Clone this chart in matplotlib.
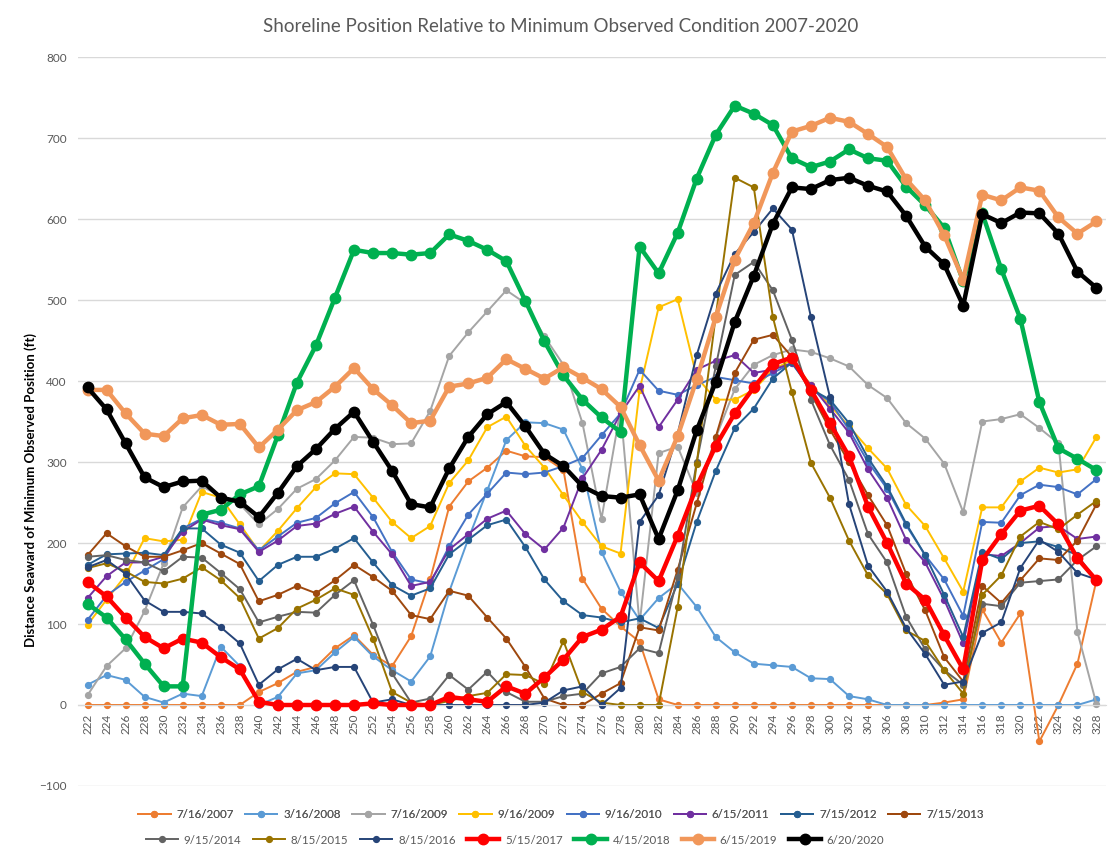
import matplotlib
matplotlib.use("Agg")
import matplotlib.pyplot as plt
from matplotlib.lines import Line2D

plt.rcParams['font.family'] = ['Lato', 'DejaVu Sans']

stations = ['222', '224', '226', '228', '230', '232', '234', '236', '238', '240',
            '242', '244', '246', '248', '250', '252', '254', '256', '258', '260',
            '262', '264', '266', '268', '270', '272', '274', '276', '278', '280',
            '282', '284', '286', '288', '290', '292', '294', '296', '298', '300',
            '302', '304', '306', '308', '310', '312', '314', '316', '318', '320',
            '322', '324', '326', '328']

s2007 = [0, 0, 0, 0, 0, 0, 0, 0, 0, 16, 27, 41, 47, 70, 86, 62, 48, 85, 155, 245,
         276, 293, 314, 307, 306, 290, 156, 119, 97, 78, 7, 0, 0, 0, 0, 0, 0, 0, 0, 0,
         0, 0, 0, 0, 0, 3, 7, 118, 77, 113, -45, 0, 51, 154]
s2008 = [25, 37, 31, 10, 3, 14, 11, 72, 48, 0, 10, 39, 43, 65, 84, 60, 43, 29, 60, 140,
         205, 265, 327, 349, 348, 340, 291, 189, 140, 105, 132, 150, 121, 84, 65, 51, 49, 47, 33, 32,
         11, 7, 0, 0, 0, 0, 0, 0, 0, 0, 0, 0, 0, 7]
s2009a = [12, 48, 70, 116, 175, 244, 270, 258, 248, 223, 242, 267, 279, 302, 331, 330, 322, 323, 363, 431,
          460, 486, 512, 496, 455, 420, 348, 230, 365, 100, 311, 319, 262, 330, 390, 420, 432, 439, 436, 428,
          418, 395, 379, 348, 329, 298, 238, 350, 353, 359, 342, 323, 90, 1]
s2009b = [99, 130, 160, 206, 202, 204, 263, 256, 223, 190, 215, 243, 269, 286, 285, 256, 226, 206, 221, 274,
          302, 343, 356, 320, 293, 259, 226, 196, 187, 389, 491, 501, 405, 377, 377, 389, 414, 426, 395, 370,
          344, 317, 292, 247, 221, 181, 140, 244, 244, 276, 293, 287, 291, 331]
s2010 = [105, 135, 152, 166, 180, 218, 230, 225, 218, 191, 208, 225, 231, 249, 263, 232, 189, 155, 150, 196,
         235, 261, 287, 285, 287, 295, 305, 333, 360, 414, 388, 383, 395, 405, 401, 397, 410, 422, 390, 375,
         340, 300, 267, 222, 185, 155, 110, 226, 225, 259, 272, 269, 260, 279]
s2011 = [132, 159, 176, 176, 183, 214, 229, 222, 217, 189, 203, 221, 224, 236, 245, 214, 186, 147, 152, 192,
         211, 230, 240, 211, 192, 219, 280, 315, 360, 394, 343, 377, 414, 425, 432, 410, 414, 422, 395, 366,
         336, 291, 256, 204, 176, 130, 76, 186, 184, 200, 219, 221, 205, 208]
s2012 = [173, 186, 187, 188, 185, 218, 218, 198, 188, 153, 173, 183, 183, 193, 206, 176, 148, 135, 144, 186,
         204, 222, 229, 195, 155, 128, 111, 108, 102, 107, 95, 150, 226, 289, 342, 366, 403, 423, 390, 377,
         348, 305, 270, 224, 185, 136, 84, 189, 180, 200, 202, 195, 185, 153]
s2013 = [185, 212, 196, 183, 183, 191, 200, 187, 174, 128, 136, 147, 138, 154, 173, 158, 141, 111, 106, 141,
         135, 108, 82, 47, 8, 0, 0, 14, 27, 96, 92, 167, 249, 331, 410, 451, 457, 430, 385, 340,
         300, 259, 222, 162, 117, 59, 29, 147, 126, 154, 181, 179, 203, 248]
s2014 = [183, 185, 179, 176, 165, 183, 182, 163, 143, 102, 109, 115, 114, 136, 154, 99, 39, 3, 8, 37,
         19, 41, 16, 4, 4, 11, 14, 39, 47, 70, 64, 158, 300, 418, 531, 547, 512, 451, 377, 321,
         278, 211, 176, 109, 69, 43, 25, 125, 122, 151, 153, 155, 179, 196]
s2015 = [169, 175, 165, 152, 150, 156, 170, 154, 132, 82, 95, 119, 130, 144, 136, 82, 16, 3, 0, 5,
         11, 15, 38, 37, 26, 79, 16, 3, 0, 0, 0, 121, 298, 480, 651, 639, 479, 386, 299, 256,
         203, 160, 137, 92, 79, 43, 14, 136, 160, 208, 226, 217, 235, 252]
s2016 = [170, 179, 162, 129, 115, 115, 113, 96, 76, 25, 44, 57, 43, 47, 47, 3, 7, 0, 0, 0,
         0, 0, 0, 0, 3, 18, 23, 0, 21, 226, 259, 335, 432, 508, 557, 584, 613, 587, 479, 380,
         248, 172, 140, 95, 63, 25, 29, 89, 102, 169, 204, 189, 163, 155]
s2017 = [152, 134, 108, 84, 70, 82, 77, 59, 44, 4, 0, 0, 0, 0, 0, 2, 0, 0, 0, 10,
         7, 4, 23, 14, 34, 56, 84, 93, 109, 176, 153, 209, 270, 320, 360, 392, 421, 429, 389, 348,
         307, 245, 200, 150, 130, 86, 44, 179, 211, 240, 246, 223, 181, 154]
s2018 = [125, 108, 81, 51, 23, 23, 235, 241, 260, 270, 333, 398, 444, 503, 562, 558, 558, 556, 558, 581,
         573, 562, 548, 499, 449, 407, 377, 355, 337, 566, 533, 583, 650, 704, 740, 730, 716, 675, 664, 671,
         686, 675, 672, 640, 617, 589, 523, 607, 538, 477, 374, 317, 304, 290]
s2019 = [389, 389, 360, 335, 332, 354, 358, 346, 347, 318, 340, 364, 374, 393, 416, 390, 370, 348, 351, 393,
         397, 404, 427, 415, 403, 417, 404, 390, 368, 321, 277, 332, 402, 479, 550, 595, 657, 708, 715, 725,
         720, 705, 689, 649, 623, 580, 525, 630, 623, 639, 635, 602, 582, 597]
s2020 = [392, 365, 323, 281, 269, 276, 277, 256, 251, 232, 262, 295, 316, 341, 362, 325, 289, 248, 244, 292,
         331, 359, 374, 344, 310, 295, 270, 258, 256, 260, 205, 265, 339, 399, 473, 530, 594, 639, 637, 648,
         651, 641, 634, 604, 566, 544, 493, 606, 595, 608, 607, 582, 535, 515]

series_labels = ['7/16/2007', '3/16/2008', '7/16/2009', '9/16/2009', '9/16/2010', '6/15/2011',
                 '7/15/2012', '7/15/2013', '9/15/2014', '8/15/2015', '8/15/2016', '5/15/2017',
                 '4/15/2018', '6/15/2019', '6/20/2020']
series_values = [s2007, s2008, s2009a, s2009b, s2010, s2011, s2012, s2013, s2014, s2015,
                 s2016, s2017, s2018, s2019, s2020]
colors = ['#ED7D31', '#5B9BD5', '#A5A5A5', '#FFC000', '#4472C4', '#7030A0', '#255E91',
          '#9E480E', '#636363', '#997300', '#264478', '#FF0000', '#00B050', '#F1975A', '#000000']
thick = [False] * 11 + [True] * 4

fig = plt.figure(figsize=(11.11, 8.5), dpi=100)
ax = fig.add_axes([0.0702, 0.0753, 0.9253, 0.8576])

xs = list(range(len(stations)))
handles = []
for lab, vals, col, th in zip(series_labels, series_values, colors, thick):
    lw = 3.2 if th else 1.4
    ms = 7.5 if th else 4.2
    z = 3 if th else 2
    h, = ax.plot(xs, vals, color=col, lw=lw, marker='o', ms=ms, zorder=z, label=lab)
    handles.append(h)

ax.set_xlim(-0.5, len(stations) - 0.5)
ax.set_ylim(-100, 800)
ax.set_yticks(range(-100, 801, 100))
ax.grid(axis='y', color='#D9D9D9', lw=1.0, zorder=0)
ax.set_axisbelow(True)
for s in ['top', 'right', 'left']:
    ax.spines[s].set_visible(False)
ax.spines['bottom'].set_position(('data', 0))
ax.spines['bottom'].set_color('#D9D9D9')
ax.set_xticks(xs)
ax.set_xticklabels(stations, rotation=90, fontsize=8.5, color='#595959')
ax.tick_params(axis='x', length=0, pad=6)
ax.tick_params(axis='y', length=0, pad=8, labelsize=8.5, labelcolor='#595959')

fig.text(0.505, 1 - 27 / 850, 'Shoreline Position Relative to Minimum Observed Condition 2007-2020',
         ha='center', va='center', fontsize=13.5, color='#595959')
fig.text(31 / 1111, 1 - 490 / 850, 'Distance Seaward of Minimum Observed Position (ft)',
         rotation=90, ha='center', va='center', fontsize=9.5, fontweight='bold', color='#000000')

def mk(h):
    return Line2D([], [], color=h.get_color(), lw=h.get_linewidth(), marker='o',
                  ms=h.get_markersize())

leg_kw = dict(loc='center', frameon=False, fontsize=8.3, handlelength=2.8,
              columnspacing=1.0, handletextpad=0.5, labelcolor='#595959')
leg1 = fig.legend([mk(h) for h in handles[:8]], series_labels[:8], ncol=8,
                  bbox_to_anchor=(561 / 1111, 1 - 815 / 850), **leg_kw)
fig.add_artist(leg1)
fig.legend([mk(h) for h in handles[8:]], series_labels[8:], ncol=7,
           bbox_to_anchor=(515 / 1111, 1 - 840 / 850), **leg_kw)

fig.savefig('out.png', dpi=100)
